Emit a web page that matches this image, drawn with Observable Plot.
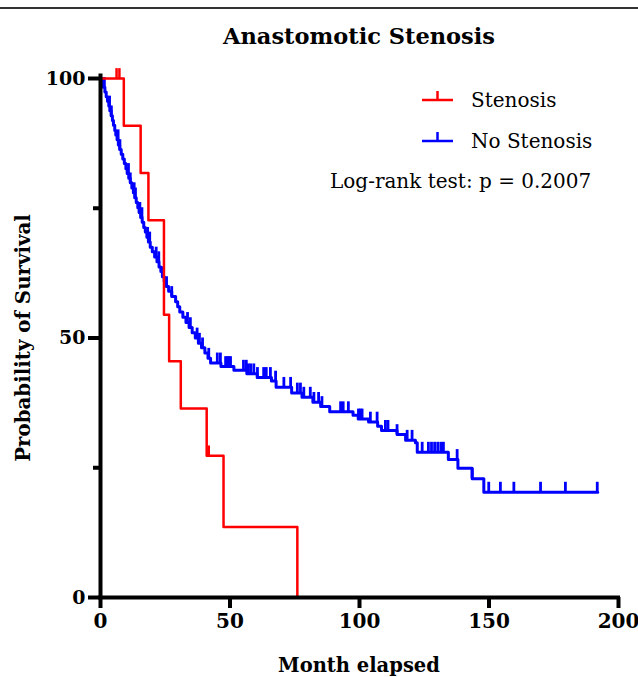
<!DOCTYPE html>
<html><head><meta charset="utf-8">
<script src="https://cdn.jsdelivr.net/npm/d3@7"></script>
<script src="https://cdn.jsdelivr.net/npm/@observablehq/plot@0.6"></script>
<style>html,body{margin:0;padding:0;background:#fff}svg{display:block}</style>
</head><body><div id="chart"></div>
<script>
// ---- Data ----
const seriesNames = ["Stenosis", "No Stenosis"];
const seriesColors = ["#ff0000", "#0000ff"];

// Stenosis: Kaplan–Meier steps (month, survival %)
const stenosisTime = [0, 9, 15.5, 18.5, 24.5, 26.5, 31, 41, 47.5, 76];
const stenosisSurv = [100, 90.9, 81.8, 72.7, 54.5, 45.5, 36.4, 27.3, 13.6, 0];
const stenosisCensor = [6.2, 7.3, 41.8];

// No Stenosis: Kaplan–Meier steps (month, survival %)
const noStenosisTime = [0,0.5,1.1,1.7,2.2,2.7,3.2,3.6,4.1,4.6,5.0,5.5,5.9,6.4,6.9,7.4,8.0,8.6,9.2,9.8,10.3,10.9,11.5,12.1,12.7,13.2,13.8,14.4,14.9,15.5,16.1,16.7,17.3,17.9,18.5,19.2,20.0,20.9,21.8,22.6,23.3,23.9,24.6,25.4,26.3,27.5,29.0,29.8,30.6,31.8,33.0,34.2,35.4,36.6,37.8,39.0,40.3,41.5,42.5,46.5,51.5,56.5,60.5,66.0,67.8,73.8,77.8,82.0,85.0,88.5,97.5,99.5,103.5,107.0,108.5,114.5,117.8,121.6,122.3,134.3,138.0,143.5,148.0,192.0];
const noStenosisSurv = [100,99.2,98.3,97.4,96.5,95.6,94.7,93.8,92.8,91.9,91.0,90.0,89.1,88.2,87.2,86.3,85.4,84.5,83.6,82.6,81.7,80.8,79.9,78.9,78.0,77.0,76.1,75.1,74.2,73.2,72.3,71.3,70.4,69.4,68.5,67.5,66.6,65.6,64.7,63.7,62.8,61.8,60.9,59.9,59.0,58.0,57.0,56.0,55.0,54.0,53.0,52.0,51.0,50.0,49.0,48.1,47.1,46.1,45.2,44.5,43.8,43.1,42.4,41.7,40.5,39.4,38.6,37.6,36.8,35.8,35.1,34.4,33.8,33.0,32.2,31.4,30.3,29.8,28.0,26.6,24.9,22.9,20.3,20.3];
const noStenosisCensor = [1.5,3.5,4.2,6.8,7.5,10.8,11.5,13,13.5,15.2,16,18.2,19,21.5,22.5,24,25.5,27.5,33.6,34.7,37.3,38.2,39.4,41.8,45.1,46.3,48.3,49,49.6,50.2,55.2,56.3,57.1,58,59.2,60.6,63,64,65.6,67.6,70.8,73.4,76,77.2,78.5,81,82.4,84.2,85.5,92.7,93.7,95.7,99.6,100.3,101,104.2,106.8,110,111,114.5,118.4,120.3,124.2,126.6,127.8,129,130.2,131.4,132.4,137.7,143.5,149.9,154.4,159.6,169.9,179.5,191.8];

const xTicks = [0, 50, 100, 150, 200];
const yTicks = [0, 50, 100];
const yMinorTicks = [25, 75];

const titleText = "Anastomotic Stenosis";
const xLabel = "Month elapsed";
const yLabel = "Probability of Survival";
const testText = "Log-rank test: p = 0.2007";

// ---- Build tables ----
function steps(times, surv, group) { return times.map((t, i) => ({t, s: surv[i], group})); }
function censorRows(times, stepTimes, stepSurv, group) {
  return times.map(t => {
    let s = stepSurv[0];
    for (let i = 0; i < stepTimes.length; i++) if (stepTimes[i] <= t) s = stepSurv[i];
    return {t, s, group};
  });
}
const redSteps = steps(stenosisTime, stenosisSurv, seriesNames[0]);
const blueSteps = steps(noStenosisTime, noStenosisSurv, seriesNames[1]);
const redCens = censorRows(stenosisCensor, stenosisTime, stenosisSurv, seriesNames[0]);
const blueCens = censorRows(noStenosisCensor, noStenosisTime, noStenosisSurv, seriesNames[1]);

const censorLen = 1.9; // tick height in survival units
const font = "DejaVu Serif";

const chart = Plot.plot({
  width: 638, height: 677,
  marginTop: 78, marginBottom: 80, marginLeft: 100, marginRight: 20,
  x: {domain: [0, 200]},
  y: {domain: [0, 100]},
  style: {fontFamily: font, background: "#fff", color: "#000"},
  marks: [
    Plot.line(blueSteps, {x: "t", y: "s", curve: "step-after", stroke: seriesColors[1], strokeWidth: 3}),
    Plot.ruleX(blueCens, {x: "t", y1: "s", y2: d => d.s + censorLen, stroke: seriesColors[1], strokeWidth: 2.8}),
    Plot.line(redSteps, {x: "t", y: "s", curve: "step-after", stroke: seriesColors[0], strokeWidth: 2.5}),
    Plot.ruleX(redCens, {x: "t", y1: "s", y2: d => d.s + censorLen, stroke: seriesColors[0], strokeWidth: 2.5}),
    Plot.axisX(xTicks, {tickSize: 11, tickPadding: 5, strokeWidth: 4, fontSize: 20, fontWeight: "bold", label: null, tickFormat: d => String(d)}),
    Plot.axisY(yTicks, {tickSize: 12, tickPadding: 3, strokeWidth: 4, fontSize: 19, fontWeight: "bold", label: null, tickFormat: d => String(d)}),
    Plot.axisY(yMinorTicks, {tickSize: 7, strokeWidth: 4, label: null, tickFormat: () => ""}),
    Plot.ruleY([0], {x1: 0, x2: 200, strokeWidth: 4, strokeLinecap: "square"}),
    Plot.ruleX([0], {y1: 0, y2: 100.5, strokeWidth: 4, strokeLinecap: "square"})
  ]
});
document.getElementById("chart").appendChild(chart);

// ---- Decorations: border, title, axis labels, legend ----
const svg = d3.select(chart);
svg.append("line").attr("x1", 0).attr("x2", 638).attr("y1", 8).attr("y2", 8)
  .attr("stroke", "#333").attr("stroke-width", 2);
svg.append("text").text(titleText).attr("x", 359).attr("y", 44)
  .attr("text-anchor", "middle").attr("font-family", font).attr("font-weight", "bold").attr("font-size", 22.5);
svg.append("text").text(xLabel).attr("x", 359).attr("y", 672)
  .attr("text-anchor", "middle").attr("font-family", font).attr("font-weight", "bold").attr("font-size", 19.5);
svg.append("text").text(yLabel).attr("transform", "translate(30,338) rotate(-90)")
  .attr("text-anchor", "middle").attr("font-family", font).attr("font-weight", "bold").attr("font-size", 19.8);

const legend = svg.append("g").attr("text-anchor", "start");
seriesNames.forEach((name, i) => {
  const y = 100 + i * 41;
  legend.append("line").attr("x1", 422).attr("x2", 453).attr("y1", y).attr("y2", y)
    .attr("stroke", seriesColors[i]).attr("stroke-width", 2.5);
  legend.append("line").attr("x1", 437.5).attr("x2", 437.5).attr("y1", y).attr("y2", y - 9)
    .attr("stroke", seriesColors[i]).attr("stroke-width", 2.5);
  legend.append("text").text(name).attr("x", 471).attr("y", y).attr("dy", "0.35em")
    .attr("text-anchor", "start").attr("font-family", font).attr("font-size", 20);
});
legend.append("text").text(testText).attr("x", 330).attr("y", 181).attr("dy", "0.35em")
  .attr("text-anchor", "start").attr("font-family", font).attr("font-size", 20);
</script>
</body></html>
